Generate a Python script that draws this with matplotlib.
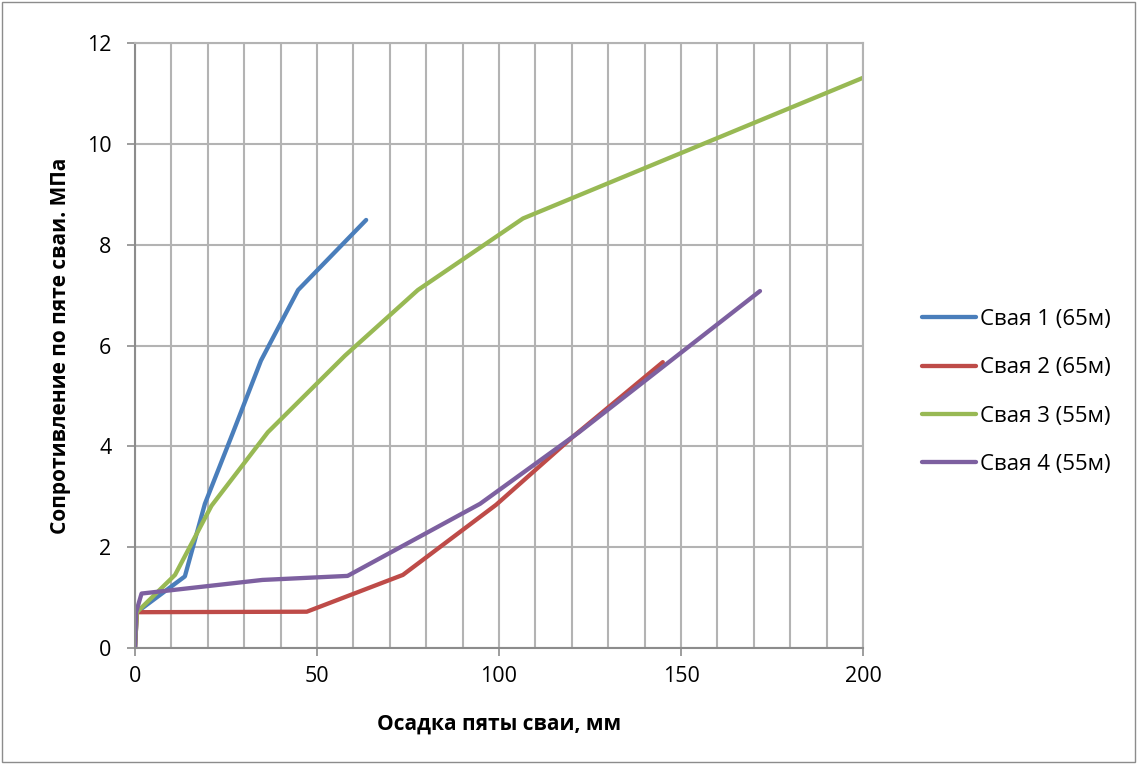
import matplotlib.pyplot as plt
from matplotlib.patches import Rectangle

plt.rcParams['font.family'] = ['Open Sans', 'DejaVu Sans']

# Осадка (мм) / сопротивление (МПа)
x1 = [0, 0.5, 13.7, 19.2, 26.9, 34.6, 44.8, 63.5]
y1 = [0, 0.71, 1.42, 2.86, 4.27, 5.70, 7.10, 8.49]

x2 = [0, 0.5, 47.2, 73.6, 99.2, 120.3, 145.0]
y2 = [0, 0.71, 0.72, 1.45, 2.84, 4.19, 5.67]

x3 = [0, 0.5, 11.0, 21.0, 36.5, 57.7, 77.7, 106.6, 200.0]
y3 = [0, 0.71, 1.45, 2.82, 4.28, 5.80, 7.10, 8.52, 11.31]

x4 = [0, 0.3, 1.8, 35.0, 58.4, 94.8, 122.0, 171.7]
y4 = [0, 0.71, 1.08, 1.35, 1.43, 2.86, 4.28, 7.08]

labels = ["Свая 1 (65м)", "Свая 2 (65м)", "Свая 3 (55м)", "Свая 4 (55м)"]
colors = ["#4A7EBB", "#BE4B48", "#98B954", "#7D60A0"]

fig = plt.figure(figsize=(11.37, 7.64), dpi=100)
ax = fig.add_axes([135 / 1137, 1 - 648 / 764, 728 / 1137, 605 / 764])

for xs, ys, lab, c in zip([x1, x2, x3, x4], [y1, y2, y3, y4], labels, colors):
    ax.plot(xs, ys, color=c, linewidth=3.1, label=lab,
            solid_joinstyle='round', solid_capstyle='round')

ax.set_xlim(0, 200)
ax.set_ylim(0, 12)
ax.set_xticks(range(0, 201, 50))
ax.set_xticks(range(0, 201, 10), minor=True)
ax.set_yticks(range(0, 13, 2))
ax.grid(True, which='both', color='#b3b3b3', linewidth=1.5)
ax.set_axisbelow(True)
for s in ax.spines.values():
    s.set_color('#b3b3b3')
    s.set_linewidth(1.5)
ax.spines['left'].set_color('#8c8c8c')
ax.spines['bottom'].set_color('#8c8c8c')
ax.tick_params(which='major', length=6, width=1.2, color='#8c8c8c', labelsize=15.5)
ax.tick_params(axis='y', pad=11)
ax.tick_params(axis='x', pad=7)
ax.tick_params(which='minor', length=0)

ax.set_xlabel("Осадка пяты сваи, мм", fontsize=15, fontweight='bold', labelpad=19)
ax.set_ylabel("Сопротивление по пяте сваи. МПа", fontsize=15, fontweight='bold', labelpad=11)

ax.legend(loc='center left', bbox_to_anchor=(1.054, 0.423), frameon=False,
          fontsize=16, handlelength=2.4, labelspacing=1.23, handletextpad=0.2)

fig.patches.append(Rectangle((2 / 1137, 2 / 764), 1 - 4 / 1137, 1 - 4 / 764,
                             transform=fig.transFigure, fill=False,
                             edgecolor='#8c8c8c', linewidth=1))

fig.savefig("out.png", dpi=100)
